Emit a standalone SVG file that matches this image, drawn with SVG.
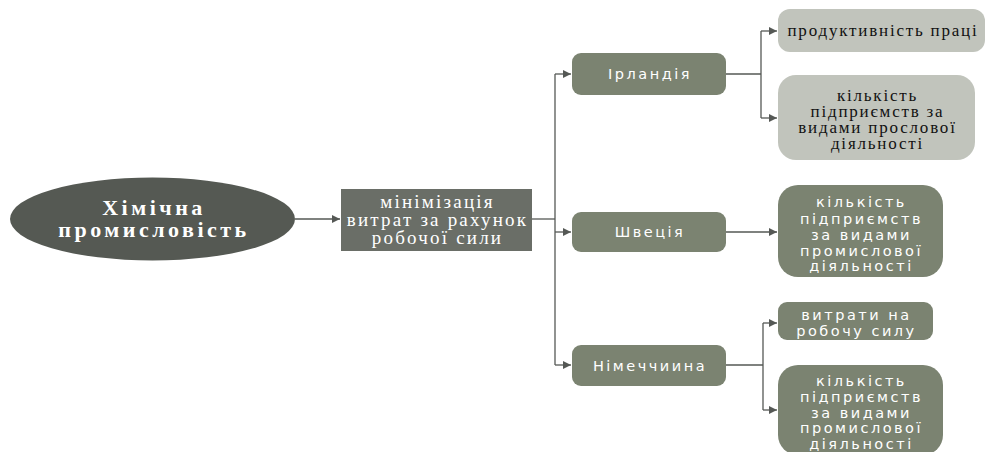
<svg xmlns="http://www.w3.org/2000/svg" width="986" height="452" viewBox="0 0 986 452">
<style>
.conn{fill:none;stroke:#555855;stroke-width:1.3}
.serifw{font-family:"Liberation Serif",serif;fill:#fff;text-anchor:middle}
.serifb{font-family:"Liberation Serif",serif;fill:#111;text-anchor:middle;font-size:17px;letter-spacing:1.8px}
.sans{font-family:"DejaVu Sans",sans-serif;fill:#fff;text-anchor:middle;font-size:14.5px;letter-spacing:2.5px}
.green{fill:#7b8371}
.light{fill:#c1c4bc}
</style>
<defs>
<marker id="ah" viewBox="0 0 10 10" refX="10" refY="5" markerWidth="10" markerHeight="8" markerUnits="userSpaceOnUse" orient="auto">
<path d="M0,0 L10,5 L0,10 z" fill="#555855"/>
</marker>
</defs>
<rect width="986" height="452" fill="#fff"/>
<g id="connectors">
<path class="conn" d="M295,219 H340" marker-end="url(#ah)"/>
<path class="conn" d="M532,219 H555"/>
<path class="conn" d="M555,74 V365"/>
<path class="conn" d="M555,74 H571" marker-end="url(#ah)"/>
<path class="conn" d="M555,232 H571" marker-end="url(#ah)"/>
<path class="conn" d="M555,365 H571" marker-end="url(#ah)"/>
<path class="conn" d="M726,74 H761"/>
<path class="conn" d="M761,31 V118"/>
<path class="conn" d="M761,31 H777" marker-end="url(#ah)"/>
<path class="conn" d="M761,118 H777" marker-end="url(#ah)"/>
<path class="conn" d="M726,232 H777" marker-end="url(#ah)"/>
<path class="conn" d="M726,365 H763"/>
<path class="conn" d="M763,323 V410"/>
<path class="conn" d="M763,323 H777" marker-end="url(#ah)"/>
<path class="conn" d="M763,410 H777" marker-end="url(#ah)"/>
</g>
<g id="root">
<ellipse cx="152.5" cy="219" rx="142.5" ry="41.5" fill="#555953"/>
<text class="serifw" font-weight="bold" font-size="22" letter-spacing="3.5" x="154" y="215">Хімічна</text>
<text class="serifw" font-weight="bold" font-size="22" letter-spacing="3.5" x="154" y="237">промисловість</text>
</g>
<g id="minimization">
<rect x="341" y="189" width="191" height="62" fill="#6a6e67"/>
<text class="serifw" font-size="19" letter-spacing="2.2" x="437.5" y="208">мінімізація</text>
<text class="serifw" font-size="19" letter-spacing="2.2" x="437.5" y="226">витрат за рахунок</text>
<text class="serifw" font-size="19" letter-spacing="2.2" x="437.5" y="244">робочої сили</text>
</g>
<g id="ireland">
<rect class="green" x="572" y="53" width="154" height="42" rx="9"/>
<text class="sans" x="650" y="79">Ірландія</text>
</g>
<g id="sweden">
<rect class="green" x="572" y="212" width="154" height="40" rx="9"/>
<text class="sans" x="650" y="237">Швеція</text>
</g>
<g id="germany">
<rect class="green" x="572" y="345" width="154" height="41" rx="9"/>
<text class="sans" x="650" y="371">Німеччиина</text>
</g>
<g id="productivity">
<rect class="light" x="778" y="9" width="207" height="43" rx="12"/>
<text class="serifb" x="883" y="36">продуктивність праці</text>
</g>
<g id="ireland-enterprises">
<rect class="light" x="778" y="75" width="197" height="85" rx="18"/>
<text class="serifb" x="877.5" y="101">кількість</text>
<text class="serifb" x="877.5" y="117">підприємств за</text>
<text class="serifb" x="877.5" y="133">видами прослової</text>
<text class="serifb" x="877.5" y="149">діяльності</text>
</g>
<g id="sweden-enterprises">
<rect class="green" x="778" y="185" width="165" height="92" rx="20"/>
<text class="sans" x="861.5" y="207">кількість</text>
<text class="sans" x="861.5" y="224">підприємств</text>
<text class="sans" x="861.5" y="240">за видами</text>
<text class="sans" x="861.5" y="256">промислової</text>
<text class="sans" x="861.5" y="271">діяльності</text>
</g>
<g id="labor-costs">
<rect class="green" x="778" y="302" width="155" height="38" rx="9"/>
<text class="sans" x="856.5" y="320">витрати на</text>
<text class="sans" x="856.5" y="336">робочу силу</text>
</g>
<g id="germany-enterprises">
<rect class="green" x="778" y="365" width="165" height="90" rx="20"/>
<text class="sans" x="861.5" y="386">кількість</text>
<text class="sans" x="861.5" y="402">підприємств</text>
<text class="sans" x="861.5" y="418">за видами</text>
<text class="sans" x="861.5" y="433">промислової</text>
<text class="sans" x="861.5" y="449">діяльності</text>
</g>
</svg>
